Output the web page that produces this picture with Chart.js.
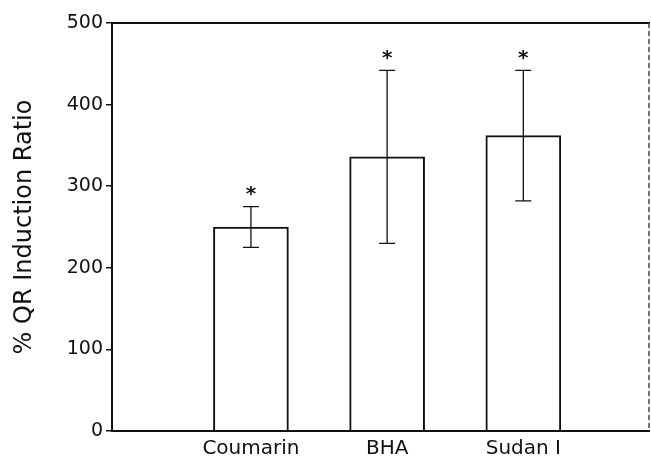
<!DOCTYPE html>
<html>
<head>
<meta charset="utf-8">
<script src="https://cdn.jsdelivr.net/npm/chart.js@4/dist/chart.umd.min.js"></script>
<style>
  html, body { margin: 0; padding: 0; background: #fff; }
  #wrap { width: 651px; height: 460px; }
</style>
</head>
<body>
<div id="wrap"><canvas id="c" width="651" height="460"></canvas></div>
<script>
// ---- data ----
const categories = ['Coumarin', 'BHA', 'Sudan I'];
const positions = [1, 2, 3];
const means = [250, 336, 362];
const errors = [25, 106, 80];
const marks = ['*', '*', '*'];
const yTicks = [0, 100, 200, 300, 400, 500];

const FONT = 'DejaVu Sans';
const INK = '#111';

const framePlugin = {
  id: 'frame',
  afterDatasetsDraw(chart) {
    const a = chart.chartArea, ctx = chart.ctx;
    ctx.save();
    ctx.strokeStyle = INK;
    ctx.lineWidth = 2;
    ctx.beginPath();
    ctx.moveTo(a.right, a.top);
    ctx.lineTo(a.left, a.top);
    ctx.lineTo(a.left, a.bottom);
    ctx.lineTo(a.right, a.bottom);
    ctx.stroke();
    ctx.strokeStyle = '#444';
    ctx.lineWidth = 1.5;
    ctx.setLineDash([5, 3]);
    ctx.beginPath();
    ctx.moveTo(a.right - 1, a.top);
    ctx.lineTo(a.right - 1, a.bottom);
    ctx.stroke();
    ctx.restore();
  }
};

const errorPlugin = {
  id: 'errbars',
  afterDatasetsDraw(chart) {
    const xs = chart.scales.x, ys = chart.scales.y, ctx = chart.ctx;
    ctx.save();
    ctx.strokeStyle = INK;
    ctx.lineWidth = 1.3;
    ctx.fillStyle = INK;
    for (let i = 0; i < means.length; i++) {
      const x = xs.getPixelForValue(positions[i]);
      const yt = ys.getPixelForValue(means[i] + errors[i]);
      const yb = ys.getPixelForValue(means[i] - errors[i]);
      ctx.beginPath();
      ctx.moveTo(x, yt); ctx.lineTo(x, yb);
      ctx.moveTo(x - 8, yt); ctx.lineTo(x + 8, yt);
      ctx.moveTo(x - 8, yb); ctx.lineTo(x + 8, yb);
      ctx.stroke();
      ctx.font = 'bold 20px ' + FONT;
      ctx.textAlign = 'center';
      ctx.textBaseline = 'alphabetic';
      ctx.fillText(marks[i], x, yt - 17.5 + 11);
    }
    ctx.restore();
  }
};

new Chart(document.getElementById('c'), {
  type: 'bar',
  data: {
    datasets: [{
      data: positions.map((x, i) => ({ x: x, y: means[i] })),
      backgroundColor: '#fff',
      borderColor: INK,
      borderWidth: 2,
      barThickness: 75
    }]
  },
  options: {
    responsive: false,
    devicePixelRatio: 1,
    animation: false,
    layout: { padding: { top: 23, right: 1, bottom: 0, left: 0 } },
    plugins: { legend: { display: false }, tooltip: { enabled: false } },
    scales: {
      x: {
        type: 'linear',
        offset: false,
        min: -0.02,
        max: 3.93,
        afterBuildTicks: s => { s.ticks = positions.map(v => ({ value: v })); },
        afterFit: s => { s.height = 29; },
        ticks: {
          callback: v => { const k = positions.indexOf(v); return k >= 0 ? categories[k] : ''; },
          font: { family: FONT, size: 20 },
          color: INK,
          padding: 6,
          maxRotation: 0,
          autoSkip: false
        },
        grid: { display: false, drawTicks: false },
        border: { display: false }
      },
      y: {
        min: 0,
        max: 500,
        afterBuildTicks: s => { s.ticks = yTicks.map(v => ({ value: v })); },
        afterFit: s => { s.width = 112; },
        ticks: { font: { family: FONT, size: 19 }, color: INK, padding: 3 },
        grid: { drawOnChartArea: false, drawTicks: true, tickLength: 6, color: INK, lineWidth: 1.5 },
        border: { display: false },
        title: {
          display: true,
          text: '% QR Induction Ratio',
          font: { family: FONT, size: 24 },
          color: INK,
          padding: { top: 10, bottom: 0 }
        }
      }
    }
  },
  plugins: [framePlugin, errorPlugin]
});
</script>
</body>
</html>
